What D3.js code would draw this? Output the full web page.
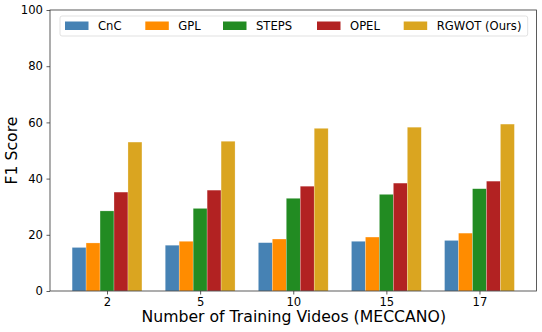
<!DOCTYPE html>
<html>
<head>
<meta charset="utf-8">
<script src="https://cdn.jsdelivr.net/npm/d3@7"></script>
<style>
    body { margin: 0; background: #fff; }
    text { font-family: "DejaVu Sans", sans-serif; fill: #000; }
</style>
</head>
<body>
<div id="chart"></div>
<script>
// data
const groups = ["2", "5", "10", "15", "17"];
const methods = ["CnC", "GPL", "STEPS", "OPEL", "RGWOT (Ours)"];
const colors = ["#4682b4", "#ff8c00", "#228b22", "#b22222", "#daa520"];
const cnc = [15.5, 16.3, 17.2, 17.7, 18.0];
const gpl = [17.1, 17.7, 18.5, 19.2, 20.6];
const steps = [28.5, 29.4, 33.0, 34.4, 36.4];
const opel = [35.2, 35.9, 37.3, 38.4, 39.1];
const rgwot = [53.0, 53.3, 57.9, 58.3, 59.4];
const yTicks = [0, 20, 40, 60, 80, 100];

const series = [cnc, gpl, steps, opel, rgwot];

const W = 542, H = 332;
const margin = { top: 10, right: 5.5, bottom: 41, left: 50 };
const width = W - margin.left - margin.right,
    height = H - margin.top - margin.bottom;

const svg = d3.select("#chart")
    .append("svg")
    .attr("width", W)
    .attr("height", H)
    .append("g")
    .attr("transform", `translate(${margin.left}, ${margin.top})`);

// matplotlib-like x: bars width 0.15, 5 per group, 5% margins
const barW = 0.15;
const x = d3.scaleLinear()
    .domain([-0.6125, groups.length - 1 + 0.6125])
    .range([0, width]);
const y = d3.scaleLinear()
    .domain([0, 100])
    .range([height, 0]);

const rows = [];
series.forEach((s, j) => {
    s.forEach((v, i) => {
        rows.push({ g: i, m: j, v: v });
    });
});

svg.selectAll("rect.bar")
    .data(rows)
    .enter()
    .append("rect")
    .attr("class", "bar")
    .attr("x", d => x(d.g + (d.m - 2.5) * barW))
    .attr("width", x(barW) - x(0))
    .attr("y", d => y(d.v))
    .attr("height", d => y(0) - y(d.v))
    .style("fill", d => colors[d.m])
    .style("stroke", "rgba(255,255,255,0.5)")
    .style("stroke-width", 0.5);

// axes
const xAxis = svg.append("g")
    .attr("transform", `translate(0, ${height})`)
    .call(d3.axisBottom(x)
        .tickValues(d3.range(groups.length))
        .tickFormat(i => groups[i])
        .tickSize(3.5)
        .tickPadding(2.8));
const yAxis = svg.append("g")
    .call(d3.axisLeft(y)
        .tickValues(yTicks)
        .tickSize(3.5)
        .tickPadding(3.5));

[xAxis, yAxis].forEach(a => {
    a.select(".domain").remove();
    a.selectAll("line").style("stroke", "#333").style("stroke-width", 0.8);
    a.selectAll("text").style("font-size", "11.6px").style("fill", "#000")
        .style("font-family", "'DejaVu Sans', sans-serif");
});

// frame
svg.append("rect")
    .attr("x", 0).attr("y", 0)
    .attr("width", width).attr("height", height)
    .style("fill", "none")
    .style("stroke", "#333")
    .style("stroke-width", 0.8);

// labels
svg.append("text")
    .attr("x", width / 2 + 0.5)
    .attr("y", height + 31)
    .attr("text-anchor", "middle")
    .style("font-size", "15.7px")
    .text("Number of Training Videos (MECCANO)");

svg.append("text")
    .attr("transform", `translate(${-33}, ${height / 2}) rotate(-90)`)
    .attr("text-anchor", "middle")
    .style("font-size", "15.7px")
    .text("F1 Score");

// legend
const legend = svg.append("g").attr("transform", "translate(10, 6)");
legend.append("rect")
    .attr("width", 467.7)
    .attr("height", 20)
    .attr("rx", 2)
    .style("fill", "rgba(255,255,255,0.8)")
    .style("stroke", "#d9d9d9")
    .style("stroke-width", 0.8);

const handleX = [5, 85.3, 163, 257, 343.7];
methods.forEach((m, i) => {
    const g = legend.append("g").attr("transform", `translate(${handleX[i]}, 0)`);
    g.append("rect")
        .attr("x", 0).attr("y", 5.5)
        .attr("width", 23.5).attr("height", 8.5)
        .style("fill", colors[i]);
    g.append("text")
        .attr("x", 33)
        .attr("y", 14.3)
        .style("font-size", "11.6px")
        .text(m);
});
</script>
</body>
</html>
